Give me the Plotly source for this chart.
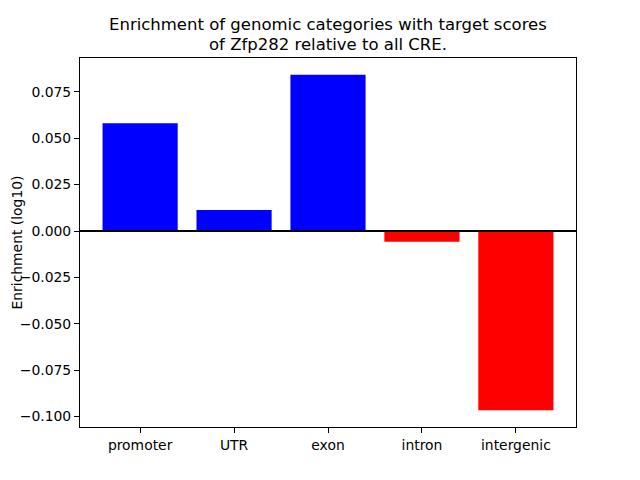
import plotly.graph_objects as go

categories = ["promoter", "UTR", "exon", "intron", "intergenic"]
values = [0.0581, 0.0113, 0.0842, -0.0058, -0.0966]
ytick_vals = [-0.100, -0.075, -0.050, -0.025, 0.000, 0.025, 0.050, 0.075]
title_lines = ["Enrichment of genomic categories with target scores",
               "of Zfp282 relative to all CRE."]
ylabel = "Enrichment (log10)"

colors = ["#0000ff" if v >= 0 else "#ff0000" for v in values]
xs = list(range(len(categories)))

lo = min(0, min(values)); hi = max(0, max(values))
pad = (hi - lo) * 0.05
yrange = [lo - pad, hi + pad]
xpad = (len(categories) - 1 + 0.8) * 0.05
xrange = [-0.4 - xpad, len(categories) - 1 + 0.4 + xpad]

font = "DejaVu Sans"
fig = go.Figure(go.Bar(x=xs, y=values, width=0.8, marker=dict(color=colors, line=dict(width=0))))

def fmt(v):
    s = f"{v:.3f}"
    return s.replace("-", "\u2212")

fig.update_layout(
    width=632, height=472,
    margin=dict(l=72, r=64, t=50, b=53),
    paper_bgcolor="white", plot_bgcolor="white",
    showlegend=False,
    font=dict(family=font, size=13.9, color="black"),
    xaxis=dict(range=xrange, tickvals=xs, ticktext=categories, showgrid=False, zeroline=False,
               showline=True, mirror=True, linecolor="black", linewidth=1.1,
               ticks="outside", ticklen=5, tickwidth=1.1, tickcolor="black"),
    yaxis=dict(range=yrange, tickvals=ytick_vals, ticktext=[fmt(v) for v in ytick_vals],
               showgrid=False, zeroline=False,
               showline=True, mirror=True, linecolor="black", linewidth=1.1,
               ticks="outside", ticklen=5, tickwidth=1.1, tickcolor="black"),
    shapes=[dict(type="line", xref="paper", x0=0, x1=1, yref="y", y0=0, y1=0,
                 line=dict(color="black", width=2))],
    annotations=[
        dict(text=title_lines[0], xref="paper", yref="paper", x=0.5, y=1, xanchor="center", yanchor="middle",
             yshift=34, showarrow=False, font=dict(family=font, size=16.5, color="black")),
        dict(text=title_lines[1], xref="paper", yref="paper", x=0.5, y=1, xanchor="center", yanchor="middle",
             yshift=14, showarrow=False, font=dict(family=font, size=16.5, color="black")),
        dict(text=ylabel, xref="paper", yref="paper", x=0, y=0.5, xanchor="center", yanchor="middle",
             xshift=-64, textangle=-90, showarrow=False, font=dict(family=font, size=13.9, color="black")),
    ],
)
fig.write_html("out.html")
